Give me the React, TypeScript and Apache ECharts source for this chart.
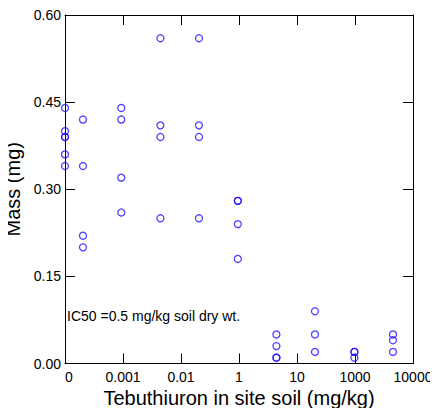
import React, { useEffect, useRef } from "react";
import * as echarts from "echarts";

// x positions are in axis-tick units (0 = "0" tick, 1 = "0.001" tick, ...)
const xTickLabels = ["0", "0.001", "0.01", "1", "10", "1000", "10000"];
const yTicks = [0, 0.15, 0.3, 0.45, 0.6];

const xPos = [
  0, 0, 0, 0, 0, 0,
  0.31, 0.31, 0.31, 0.31,
  0.97, 0.97, 0.97, 0.97,
  1.645, 1.645, 1.645, 1.645,
  2.31, 2.31, 2.31, 2.31,
  2.98, 2.98, 2.98, 2.98,
  3.645, 3.645, 3.645, 3.645,
  4.31, 4.31, 4.31,
  4.99, 4.99, 4.99,
  5.655, 5.655, 5.655,
];
const massValues = [
  0.44, 0.40, 0.39, 0.39, 0.36, 0.34,
  0.42, 0.34, 0.22, 0.20,
  0.44, 0.42, 0.32, 0.26,
  0.56, 0.41, 0.39, 0.25,
  0.56, 0.41, 0.39, 0.25,
  0.28, 0.28, 0.24, 0.18,
  0.05, 0.03, 0.01, 0.01,
  0.09, 0.05, 0.02,
  0.02, 0.02, 0.01,
  0.05, 0.04, 0.02,
];

const annotation = "IC50 =0.5 mg/kg soil dry wt.";
const xName = "Tebuthiuron in site soil (mg/kg)";
const yName = "Mass (mg)";

const FONT = "Liberation Sans, Arial, sans-serif";

export default function App() {
  const ref = useRef<HTMLDivElement>(null);
  useEffect(() => {
    if (!ref.current) return;
    const chart = echarts.init(ref.current, null, { renderer: "svg" });
    const axisLine = { show: true, onZero: false, lineStyle: { color: "#000", width: 1 } };
    const axisTick = { show: true, inside: true, length: 10, lineStyle: { color: "#000", width: 1 } };
    chart.setOption({
      animation: false,
      backgroundColor: "#fff",
      textStyle: { fontFamily: FONT },
      grid: {
        left: 65,
        top: 15,
        width: 348,
        height: 348.5,
        containLabel: false,
        outerBoundsMode: "none",
      },
      xAxis: [
        {
          type: "value",
          min: 0,
          max: 6,
          interval: 1,
          position: "bottom",
          axisLine,
          axisTick,
          splitLine: { show: false },
          axisLabel: {
            color: "#000",
            fontSize: 14,
            fontFamily: FONT,
            margin: 6,
            alignMinLabel: "left",
            formatter: (v: number) => xTickLabels[Math.round(v)] ?? "",
          },
          name: xName,
          nameLocation: "middle",
          nameGap: 22,
          nameTextStyle: { color: "#000", fontSize: 20, fontFamily: FONT, verticalAlign: "top" },
        },
        {
          type: "value",
          min: 0,
          max: 6,
          interval: 1,
          position: "top",
          axisLine,
          axisTick,
          splitLine: { show: false },
          axisLabel: { show: false },
        },
      ],
      yAxis: [
        {
          type: "value",
          min: 0,
          max: 0.6,
          interval: 0.15,
          position: "left",
          axisLine,
          axisTick,
          splitLine: { show: false },
          axisLabel: {
            color: "#000",
            fontSize: 14,
            fontFamily: FONT,
            margin: 4,
            formatter: (v: number) => {
              const t = yTicks.find((y) => Math.abs(y - v) < 1e-9);
              return (t ?? v).toFixed(2);
            },
          },
          name: yName,
          nameLocation: "middle",
          nameGap: 32,
          nameTextStyle: { color: "#000", fontSize: 20, fontFamily: FONT },
        },
        {
          type: "value",
          min: 0,
          max: 0.6,
          interval: 0.15,
          position: "right",
          axisLine,
          axisTick,
          splitLine: { show: false },
          axisLabel: { show: false },
        },
      ],
      graphic: [
        {
          type: "text",
          left: 67,
          top: 309,
          style: { text: annotation, fill: "#000", fontSize: 14, fontFamily: FONT },
        },
      ],
      series: [
        {
          type: "scatter",
          data: xPos.map((x, i) => [x, massValues[i]]),
          symbol: "circle",
          symbolSize: 7,
          clip: false,
          itemStyle: { color: "rgba(255,255,255,0)", borderColor: "#2211ff", borderWidth: 1.3 },
          z: 3,
        },
      ],
    });
    return () => chart.dispose();
  }, []);
  return <div ref={ref} style={{ width: 438, height: 416, margin: -8 }} />;
}
